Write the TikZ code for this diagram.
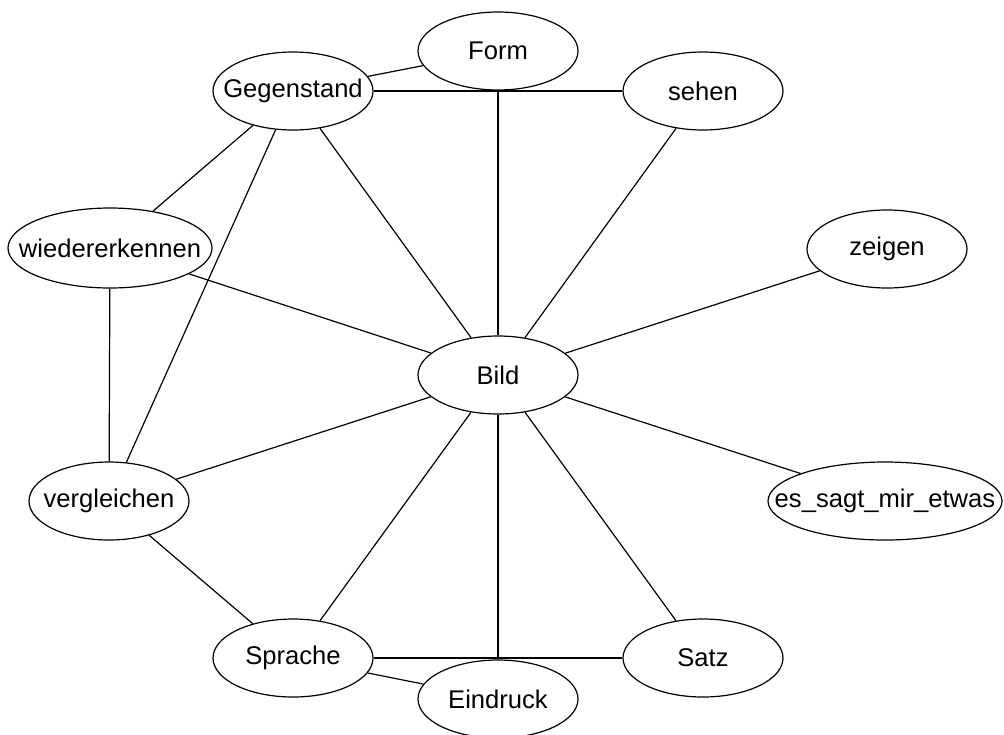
\documentclass[tikz,border=0pt]{standalone}
\usepackage{fontspec}
\setmainfont{Liberation Sans}
\usetikzlibrary{shapes.geometric}
% label of zero width, so the ellipse keeps the size it is given
\newcommand{\termtext}[1]{\makebox[0pt]{#1}}
\begin{document}
\begin{tikzpicture}[x=0.5pt,y=-0.5pt,
  term/.style={ellipse,draw,line width=0.6pt,inner sep=0pt,
    minimum width=80pt,minimum height=39pt,
    font=\fontsize{12.8}{15}\selectfont},
  link/.style={line width=0.6pt}]
\useasboundingbox (0,0) rectangle (1004,734);
% concept nodes
\node[term] (form) at (498,51) {\termtext{Form}};
\node[term] (gegenstand) at (293,91) {\termtext{Gegenstand}};
\node[term] (sehen) at (703,91) {\termtext{sehen}};
\node[term,minimum width=102pt,minimum height=40pt] (wieder) at (110,248) {\termtext{wiedererkennen}};
\node[term] (zeigen) at (887,249) {\termtext{zeigen}};
\node[term] (bild) at (498,375) {\termtext{Bild}};
\node[term] (vergleichen) at (109,501) {\termtext{vergleichen}};
\node[term,minimum width=117pt] (sagt) at (885,501) {\termtext{es\_sagt\_mir\_etwas}};
\node[term] (sprache) at (293,658) {\termtext{Sprache}};
\node[term] (satz) at (703,658) {\termtext{Satz}};
\node[term] (eindruck) at (498,699) {\termtext{Eindruck}};
% relations
\draw[link] (gegenstand) -- (form);
\draw[link] (gegenstand) -- (sehen);
\draw[link] (form) -- (bild);
\draw[link] (sehen) -- (bild);
\draw[link] (gegenstand) -- (wieder);
\draw[link] (gegenstand) -- (vergleichen);
\draw[link] (gegenstand) -- (bild);
\draw[link] (wieder) -- (bild);
\draw[link] (wieder) -- (vergleichen);
\draw[link] (zeigen) -- (bild);
\draw[link] (vergleichen) -- (bild);
\draw[link] (sagt) -- (bild);
\draw[link] (vergleichen) -- (sprache);
\draw[link] (sprache) -- (bild);
\draw[link] (eindruck) -- (bild);
\draw[link] (satz) -- (bild);
\draw[link] (sprache) -- (satz);
\draw[link] (sprache) -- (eindruck);
\end{tikzpicture}
\end{document}
